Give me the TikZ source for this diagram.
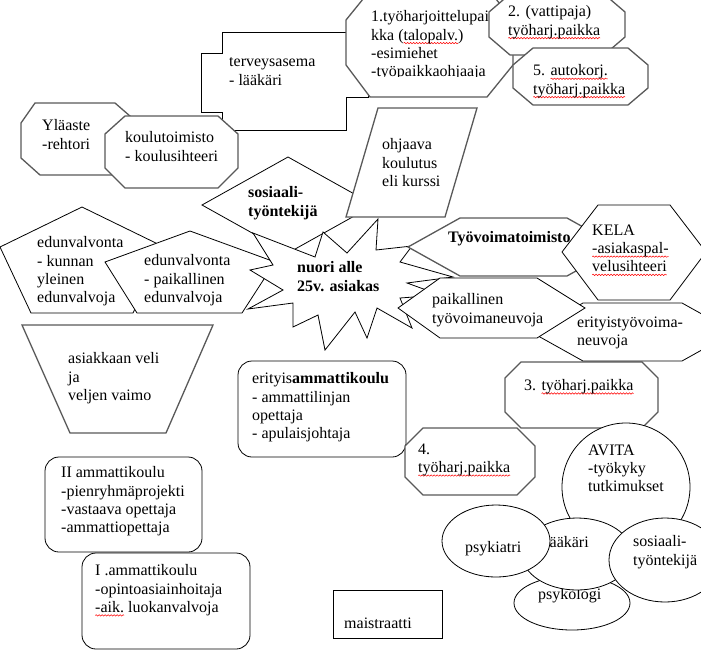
\documentclass[tikz,border=0pt]{standalone}
\usepackage{fontspec}
\setmainfont{Liberation Serif}
\usetikzlibrary{decorations.pathmorphing}
\newsavebox\wavebox
\newlength\wavelen
\newcommand\redwave[1]{\sbox\wavebox{#1}\setlength\wavelen{\wd\wavebox}%
	\rlap{\tikz[overlay, baseline=0pt]\draw[red, line width=0.5pt, decorate, decoration={snake, amplitude=0.7pt, segment length=3pt}] (0pt,-3pt) -- (\wavelen,-3pt);}\usebox\wavebox}

\begin{document}
\begin{tikzpicture}[x=1pt, y=-1pt,
		blackline/.style={draw=black, line width=0.8pt, fill=white},
		greyline/.style={draw=black!65, line width=1.3pt, fill=white},
		txt/.style={anchor=north west, inner sep=0pt, align=left, yshift=8.5pt,
			font=\fontsize{16}{18.3}\selectfont, execute at begin node=\strut}]
		\clip (0,0) rectangle (701,662);

		% Draw the health centre (cross shape)
		\draw[blackline] (222,32) -- (346,32) -- (346,53) -- (368,53) -- (368,97) -- (346,97) -- (346,130) -- (222,130) -- (222,112) -- (201,112) -- (201,53) -- (222,53) -- cycle;
		\node[txt] (terveys) at (229,66) {terveysasema\\- lääkäri};

		% Draw the three work placement octagons at the top
		\draw[greyline] (372,-12) -- (487,-12) -- (513,20) -- (513,65) -- (487,97) -- (370,97) -- (346,65) -- (346,20) -- cycle;
		\begin{scope}
			\clip (346,-12) rectangle (513,76);
			\node[txt] (harj1) at (371,19) {1.työharjoittelupai\\kka (\redwave{talopalv.})\\-esimiehet\\-työpaikkaohjaaja};
		\end{scope}
		\draw[greyline] (510,-6) -- (604,-6) -- (625,12) -- (625,37) -- (604,55) -- (510,55) -- (489,37) -- (489,12) -- cycle;
		\node[txt] (harj2) at (508,14) {2. (vattipaja)\\\redwave{työharj.paikka}};
		\draw[greyline] (533,48) -- (628,48) -- (648,65) -- (648,88) -- (628,105) -- (533,105) -- (513,88) -- (513,65) -- cycle;
		\node[txt] (harj5) at (533,73) {5. \redwave{autokorj.}\\\redwave{työharj.paikka}};

		% Draw the school octagons
		\draw[greyline] (35,103) -- (115,103) -- (138,123) -- (138,158) -- (115,175) -- (40,175) -- (21,158) -- (21,123) -- cycle;
		\node[txt] (ylaaste) at (42,128) {Yläaste\\-rehtori};
		\draw[greyline] (125,116) -- (218,116) -- (238,134) -- (238,168) -- (218,188) -- (125,188) -- (105,168) -- (105,134) -- cycle;
		\node[txt] (koulutoim) at (125,140) {koulutoimisto\\- koulusihteeri};

		% Draw the social worker diamond and the course parallelogram
		\draw[blackline] (202,205) -- (288,157) -- (374,205) -- (288,253) -- cycle;
		\node[txt, font=\fontsize{16}{18.3}\selectfont\bfseries] (sosiaali) at (248,195) {sosiaali-\\työntekijä};
		\draw[greyline] (346,217) -- (378,108) -- (477,108) -- (445,217) -- cycle;
		\node[txt] (ohjaava) at (382,147) {ohjaava\\koulutus\\eli kurssi};

		% Draw the two guardianship pentagons
		\draw[blackline] (82,207) -- (164,247) -- (133,313) -- (31,313) -- (0,247) -- cycle;
		\node[txt] (edun1) at (37,245) {edunvalvonta\\- kunnan\\yleinen\\edunvalvoja};
		\draw[blackline] (190,231) -- (275,262) -- (242,313) -- (137,313) -- (105,262) -- cycle;
		\node[txt] (edun2) at (144,263) {edunvalvonta\\- paikallinen\\edunvalvoja};

		% Draw the client in the middle (star)
		\draw[blackline] (253,233) -- (315,257) -- (323,232) -- (347,253) -- (378,219) -- (376,250) -- (412,246) -- (400,262) -- (453,277) -- (407,283) -- (440,295) -- (400,298) -- (412,328) -- (377,308) -- (367,338) -- (355,312) -- (325,350) -- (318,315) -- (293,327) -- (293,303) -- (248,309) -- (283,290) -- (250,270) -- (273,265) -- cycle;
		\node[txt, font=\fontsize{16}{18.3}\selectfont\bfseries] (nuori) at (297,270) {nuori alle\\25v. asiakas};

		% Draw the employment office hexagons
		\draw[greyline] (408,247) -- (460,218) -- (567,218) -- (619,247) -- (567,276) -- (460,276) -- cycle;
		\node[txt, font=\fontsize{16}{18.3}\selectfont\bfseries] (tyovoima) at (448,238) {Työvoimatoimisto};
		\draw[blackline] (562,252) -- (598,205) -- (670,205) -- (706,252) -- (670,300) -- (598,300) -- cycle;
		\node[txt] (kela) at (592,233) {KELA\\\redwave{-asiakaspal-}\\\redwave{velusihteeri}};
		\draw[greyline] (505,378) -- (521,362) -- (642,362) -- (658,378) -- (658,412) -- (642,428) -- (521,428) -- (505,412) -- cycle;
		\node[txt] (harj3) at (524,386) {3. \redwave{työharj.paikka}};
		\draw[blackline] (531,332) -- (583,303) -- (682,303) -- (734,332) -- (682,361) -- (583,361) -- cycle;
		\begin{scope}
			\clip (531,303) rectangle (701,349);
			\node[txt] (erityistyo) at (577,325) {erityistyövoima-\\neuvoja};
		\end{scope}
		\draw[blackline] (398,308) -- (440,278) -- (537,278) -- (585,308) -- (537,338) -- (440,338) -- cycle;
		\begin{scope}
			\clip (398,278) rectangle (585,326);
			\node[txt] (paikallinen) at (432,302) {paikallinen\\työvoimaneuvoja};
		\end{scope}

		% Draw the family trapezoid and the special vocational school
		\draw[greyline] (22,325) -- (213,325) -- (166,433) -- (70,433) -- cycle;
		\node[txt] (veli) at (68,361) {asiakkaan veli\\ja\\veljen vaimo};
		\draw[blackline, rounded corners=14] (238,361) rectangle (406,457);
		\node[txt] (erityisak) at (252,381) {erityis\textbf{ammattikoulu}\\- ammattilinjan\\opettaja\\- apulaisjohtaja};
		\draw[greyline] (405,446) -- (423,428) -- (517,428) -- (535,446) -- (535,477) -- (517,495) -- (423,495) -- (405,477) -- cycle;
		\node[txt] (harj4) at (418,452) {4.\\\redwave{työharj.paikka}};

		% Draw the work ability circle and the ellipses below it
		\draw[blackline] (626,487) circle (64);
		\node[txt] (avita) at (588,453) {AVITA\\-työkyky\\tutkimukset};
		\draw[blackline] (572,603) ellipse (58 and 27);
		\node[txt] (psykologi) at (538,595) {psykologi};
		\draw[blackline] (577,554) ellipse (55 and 36);
		\node[txt] (laakari) at (545,543) {lääkäri};
		\draw[blackline] (496,541) ellipse (54 and 36);
		\node[txt] (psykiatri) at (465,548) {psykiatri};
		\draw[blackline] (665,560) ellipse (56 and 42);
		\node[txt] (sosiaali2) at (633,544) {sosiaali-\\työntekijä};

		% Draw the vocational schools and the register office
		\draw[blackline, rounded corners=14] (45,457) rectangle (202,552);
		\node[txt] (amk2) at (61,475) {II ammattikoulu\\-pienryhmäprojekti\\-vastaava opettaja\\-ammattiopettaja};
		\draw[blackline, rounded corners=14] (82,553) rectangle (250,649);
		\node[txt] (amk1) at (95,573) {I .ammattikoulu\\-opintoasiainhoitaja\\\redwave{-aik.} luokanvalvoja};
		\draw[blackline] (333,590) rectangle (442,638);
		\node[txt] (maistraatti) at (344,624) {maistraatti};
\end{tikzpicture}
\end{document}
